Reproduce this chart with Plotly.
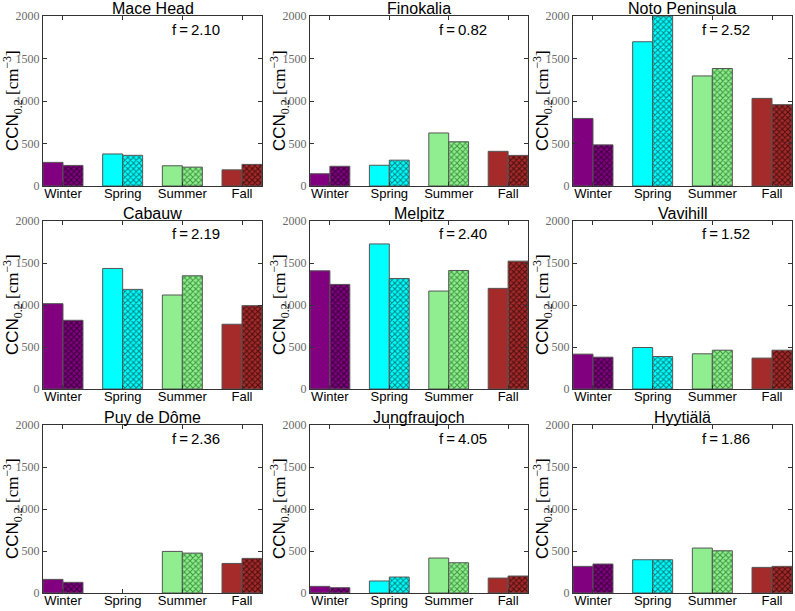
import plotly.graph_objects as go

W, H = 795, 611

seasons = ["Winter", "Spring", "Summer", "Fall"]
season_x = [1, 2, 3, 4]
sites = ["Mace Head", "Finokalia", "Noto Peninsula",
         "Cabauw", "Melpitz", "Vavihill",
         "Puy de Dôme", "Jungfraujoch", "Hyytiälä"]
f_values = ["2.10", "0.82", "2.52", "2.19", "2.40", "1.52", "2.36", "4.05", "1.86"]

# solid bars (first of each pair) and hatched bars (second of each pair)
mace_head_solid = [278, 377, 238, 190]
mace_head_hatched = [242, 361, 222, 254]
finokalia_solid = [144, 244, 624, 408]
finokalia_hatched = [232, 304, 520, 360]
noto_solid = [795, 1697, 1295, 1031]
noto_hatched = [484, 2000, 1382, 957]
cabauw_solid = [1016, 1435, 1119, 771]
cabauw_hatched = [818, 1186, 1348, 992]
melpitz_solid = [1407, 1727, 1166, 1198]
melpitz_hatched = [1245, 1316, 1411, 1522]
vavihill_solid = [415, 494, 419, 368]
vavihill_hatched = [379, 387, 462, 462]
puy_solid = [162, None, 495, 352]      # no spring data
puy_hatched = [127, None, 475, 412]
jungfraujoch_solid = [79, 143, 416, 178]
jungfraujoch_hatched = [63, 190, 360, 202]
hyytiala_solid = [317, 396, 535, 305]
hyytiala_hatched = [345, 396, 503, 317]

solid_data = [mace_head_solid, finokalia_solid, noto_solid,
              cabauw_solid, melpitz_solid, vavihill_solid,
              puy_solid, jungfraujoch_solid, hyytiala_solid]
hatched_data = [mace_head_hatched, finokalia_hatched, noto_hatched,
                cabauw_hatched, melpitz_hatched, vavihill_hatched,
                puy_hatched, jungfraujoch_hatched, hyytiala_hatched]

y_ticks = [0, 500, 1000, 1500, 2000]

season_colors = ["#800080", "#00ffff", "#90ee90", "#a52a2a"]
hatch_colors = ["#3a003a", "#008282", "#3f963f", "#4a0e0e"]

cols_px = [(43, 262), (310, 528), (573, 792)]
rows_px = [(16, 186), (221, 389), (425, 593)]

BAR_W = 0.335

sans = "Liberation Sans, Arial, sans-serif"
serif = "Liberation Serif, Times New Roman, serif"

fig = go.Figure()
layout = dict(
    template="none",
    width=W, height=H,
    margin=dict(l=0, r=0, t=0, b=0, autoexpand=False),
    paper_bgcolor="white", plot_bgcolor="white",
    showlegend=False,
    barmode="overlay",
)
annotations = []

for i, site in enumerate(sites):
    r, c = divmod(i, 3)
    x0, x1 = cols_px[c]
    ytop, ybot = rows_px[r]
    idx = "" if i == 0 else str(i + 1)
    xa, ya = "x" + idx, "y" + idx

    for k in range(4):
        fig.add_trace(go.Bar(
            x=[season_x[k]], y=[solid_data[i][k]], xaxis=xa, yaxis=ya,
            width=BAR_W, offset=-BAR_W,
            marker=dict(color=season_colors[k], line=dict(color="#555555", width=1)),
            hoverinfo="y",
        ))
        fig.add_trace(go.Bar(
            x=[season_x[k]], y=[hatched_data[i][k]], xaxis=xa, yaxis=ya,
            width=BAR_W, offset=0,
            marker=dict(color=season_colors[k], line=dict(color="#555555", width=1),
                        pattern=dict(shape="x", size=4, solidity=0.45,
                                     fillmode="replace",
                                     bgcolor=season_colors[k],
                                     fgcolor=hatch_colors[k])),
            hoverinfo="y",
        ))

    layout["xaxis" + idx] = dict(
        domain=[x0 / W, x1 / W], anchor=ya, automargin=False,
        range=[0.665, 4.335], tickvals=season_x, ticktext=seasons,
        ticks="inside", ticklen=4, tickcolor="#333333",
        showline=True, linecolor="#333333", linewidth=1, mirror="ticks",
        showgrid=False, zeroline=False, fixedrange=True,
        ticklabelstandoff=-5,
        tickfont=dict(family=sans, size=13, color="black"),
    )
    layout["yaxis" + idx] = dict(
        domain=[1 - ybot / H, 1 - ytop / H], anchor=xa, automargin=False,
        range=[0, 2000], tickvals=y_ticks,
        ticks="inside", ticklen=4, tickcolor="#333333",
        showline=True, linecolor="#333333", linewidth=1, mirror="ticks",
        showgrid=False, zeroline=False, fixedrange=True,
        tickfont=dict(family=serif, size=12, color="#6a6a6a"),
    )

    annotations.append(dict(
        text=site, xref=xa + " domain", yref=ya + " domain",
        x=0.5, y=1, xanchor="center", yanchor="bottom", yshift=-3,
        showarrow=False, font=dict(family=sans, size=16, color="black"),
    ))
    annotations.append(dict(
        text="f\u2009=\u2009" + f_values[i], xref=xa + " domain", yref=ya + " domain",
        x=0.70, y=1 - 13 / (ybot - ytop), xanchor="center", yanchor="middle",
        showarrow=False, font=dict(family=sans, size=15, color="black"),
    ))
    annotations.append(dict(
        text=('CCN<sub><span style="font-family:Liberation Serif">0.2</span></sub>'
              '<span style="font-family:Liberation Serif"> [cm<sup>\u22123</sup>]</span>'),
        xref="paper", yref="paper",
        x=(x0 - 31) / W, y=1 - (ytop + ybot) / 2 / H,
        xanchor="center", yanchor="middle", textangle=-90, borderpad=0,
        showarrow=False, font=dict(family=sans, size=17, color="black"),
    ))

layout["annotations"] = annotations
fig.update_layout(**layout)
fig.write_html("out.html", config={"displayModeBar": False},
               post_script="document.body.style.margin='0';document.body.style.overflow='hidden';")
